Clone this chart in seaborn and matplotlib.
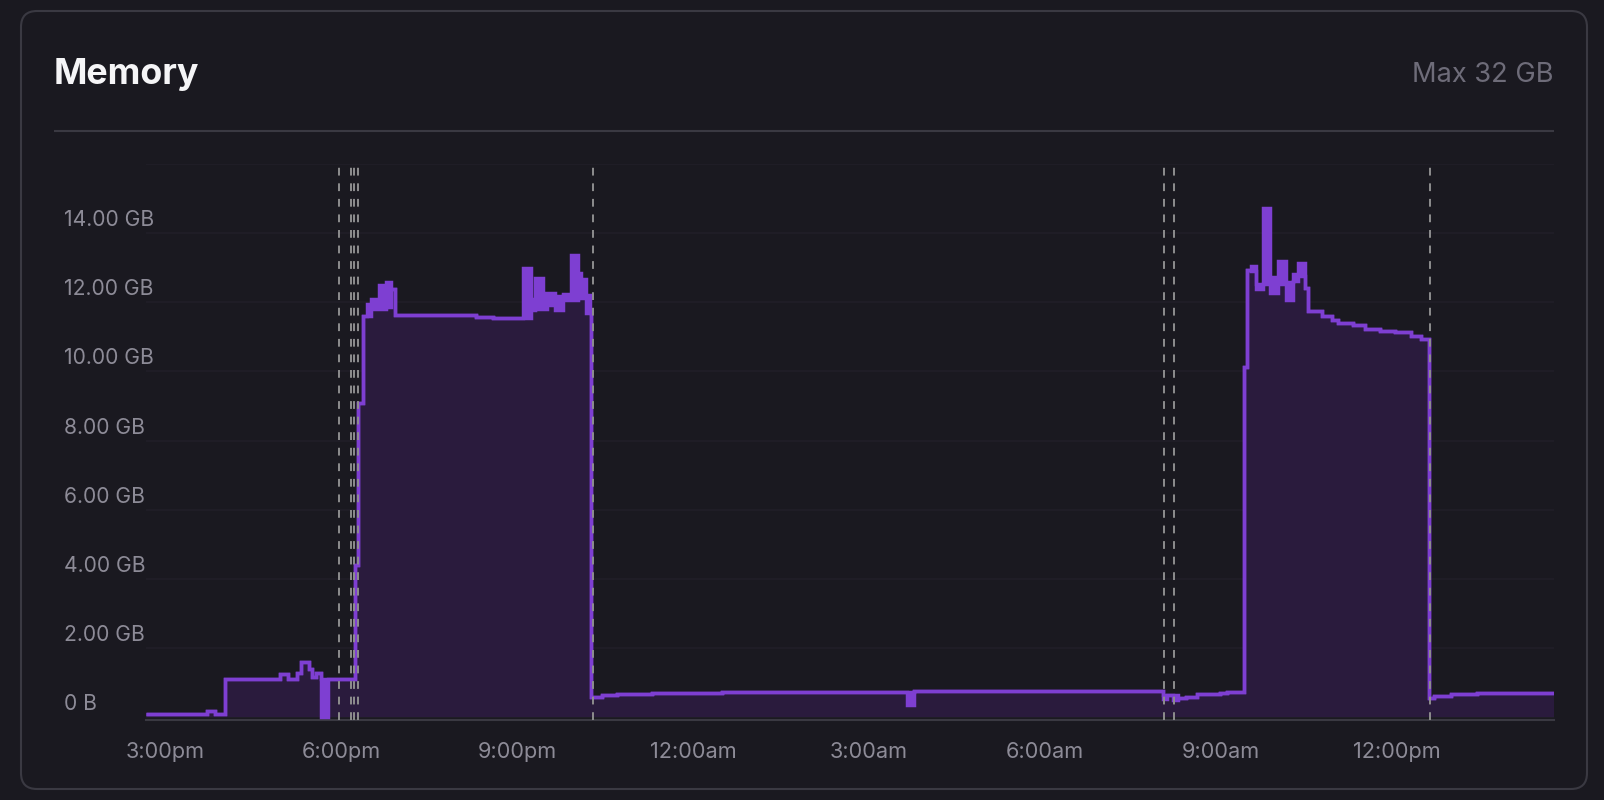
import numpy as np
import pandas as pd
import matplotlib
matplotlib.use('Agg')
import matplotlib.pyplot as plt
import seaborn as sns
from matplotlib.patches import FancyBboxPatch
from matplotlib import transforms

# Memory usage over ~24h, hours counted from 3:00pm
# each step holds from its time until the next one; lo/hi differ where the
# value flickers inside one pixel column (drawn as a solid block)
time_h = [-0.32, 0.72, 0.85, 1.02, 1.96, 2.10, 2.25, 2.32, 2.45, 2.50, 2.58, 2.66, 2.78,
          3.24, 3.30, 3.38, 3.44, 3.51, 3.65, 3.77, 3.855, 3.92, 4.50, 5.30, 5.60,
          6.11, 6.24, 6.31, 6.44, 6.51, 6.65, 6.78, 6.92, 7.04, 7.10, 7.18, 7.245,
          7.27, 7.45, 7.70, 8.30, 9.50, 11.00, 12.64, 12.77, 14.00, 15.50, 16.00,
          17.01, 17.07, 17.17, 17.27, 17.40, 17.59, 17.98, 18.10,
          18.39, 18.44, 18.50, 18.59, 18.71, 18.83, 18.97, 19.10, 19.23, 19.31, 19.43,
          19.48, 19.71, 19.88, 19.99, 20.25, 20.45, 20.70, 20.96, 21.24, 21.41,
          21.54, 21.62, 21.92, 22.35, 23.67]
mem_lo = [0.10, 0.18, 0.10, 1.12, 1.26, 1.12, 1.28, 1.60, 1.40, 1.15, 1.28, 0.00, 1.10,
          4.40, 9.10, 11.60, 11.60, 11.80, 11.80, 11.85, 12.39, 11.63, 11.62, 11.58, 11.55,
          11.55, 11.78, 11.80, 11.80, 11.92, 11.79, 12.08, 12.08, 12.58, 12.12, 11.68, 11.71,
          0.58, 0.64, 0.68, 0.71, 0.73, 0.74, 0.36, 0.75, 0.76, 0.77, 0.76,
          0.52, 0.65, 0.50, 0.55, 0.58, 0.67, 0.71, 0.72,
          10.12, 12.92, 12.90, 12.39, 12.53, 12.27, 12.53, 12.08, 12.63, 12.77, 12.41,
          11.74, 11.59, 11.50, 11.40, 11.35, 11.23, 11.18, 11.13, 11.03, 10.94,
          0.55, 0.62, 0.67, 0.71, 0.71]
mem_hi = [0.10, 0.18, 0.10, 1.12, 1.26, 1.12, 1.28, 1.60, 1.40, 1.15, 1.28, 1.12, 1.10,
          4.40, 9.10, 11.60, 11.95, 12.10, 12.50, 12.60, 12.39, 11.63, 11.62, 11.58, 11.55,
          13.00, 12.09, 12.71, 12.26, 12.26, 12.19, 12.24, 13.38, 12.85, 12.67, 12.21, 11.71,
          0.58, 0.64, 0.68, 0.71, 0.73, 0.74, 0.74, 0.75, 0.76, 0.77, 0.76,
          0.65, 0.65, 0.65, 0.55, 0.58, 0.67, 0.71, 0.72,
          10.12, 12.92, 13.06, 12.53, 14.74, 12.72, 13.20, 12.58, 12.82, 13.13, 12.41,
          11.74, 11.59, 11.50, 11.40, 11.35, 11.23, 11.18, 11.13, 11.03, 10.94,
          0.55, 0.62, 0.67, 0.71, 0.71]

# deploy markers (dashed vertical lines)
deploy_h = [2.97, 3.17, 3.22, 3.30, 7.29, 17.03, 17.20, 21.56]

x_tick_h = [0, 3, 6, 9, 12, 15, 18, 21]
x_tick_labels = ['3:00pm', '6:00pm', '9:00pm', '12:00am', '3:00am', '6:00am', '9:00am', '12:00pm']
y_tick_gb = [0, 2, 4, 6, 8, 10, 12, 14]
y_tick_labels = ['0 B', '2.00 GB', '4.00 GB', '6.00 GB', '8.00 GB', '10.00 GB', '12.00 GB', '14.00 GB']

df = pd.DataFrame({'hour': time_h, 'lo': mem_lo, 'hi': mem_hi})

# colours
bg_c = '#1a1920'
border_c = '#3a3942'
grid_c = '#211f28'
line_c = '#7e3fd2'
fill_c = '#2a1b3d'
tick_c = '#8d8b97'

sns.set_theme(style='dark')
plt.rcParams['font.family'] = ['Inter', 'DejaVu Sans']

W, H = 1604, 800
fig = plt.figure(figsize=(W / 100, H / 100), dpi=100, facecolor=bg_c)

# background layer in pixel units: card, header, divider
bg = fig.add_axes([0, 0, 1, 1])
bg.set_xlim(0, W)
bg.set_ylim(H, 0)
bg.axis('off')
bg.set_zorder(0)
card = FancyBboxPatch((21, 11), 1566, 778, boxstyle='round,pad=0,rounding_size=16',
                      facecolor=bg_c, edgecolor=border_c, lw=1.5)
bg.add_patch(card)
bg.plot([54, 1554], [130.5, 130.5], color=border_c, lw=1.5, solid_capstyle='butt')
bg.text(54, 84, 'Memory', fontsize=25.8, weight='bold', color='#f5f5f7', ha='left', va='baseline')
bg.text(1554, 82, 'Max 32 GB', fontsize=19.6, color='#6e6c79', ha='right', va='baseline')

# chart
ax = fig.add_axes([146 / W, (H - 720) / H, (1554 - 146) / W, (720 - 164) / H])
ax.set_zorder(1)
ax.patch.set_alpha(0)

ax.fill_between(df['hour'], 0, df['hi'], step='post', color=fill_c, lw=0, zorder=1)
ax.fill_between(df['hour'], df['lo'], df['hi'], step='post', color=line_c, lw=0, zorder=2)
for col in ['hi', 'lo']:
    sns.lineplot(data=df, x='hour', y=col, ax=ax, estimator=None, sort=False,
                 drawstyle='steps-post', color=line_c, lw=2.5,
                 solid_joinstyle='miter', solid_capstyle='butt', zorder=3)

for h in deploy_h:
    ax.axvline(h, color='#8e8e8e', lw=1.4, linestyle=(0, (4, 4)), zorder=4)

ax.set_xlim(-0.32, 23.67)
ax.set_ylim(-0.08, 16)
ax.set_xlabel('')
ax.set_ylabel('')

ax.set_yticks(range(0, 17, 2))
ax.set_yticklabels([])
ax.yaxis.grid(True, color=grid_c, lw=1.2)
ax.xaxis.grid(False)
ax.set_xticks(x_tick_h, x_tick_labels)
ax.tick_params(axis='x', length=0, pad=16, labelsize=15.6, labelcolor=tick_c)
ax.tick_params(axis='y', length=0)

for s in ['top', 'right', 'left']:
    ax.spines[s].set_visible(False)
ax.spines['bottom'].set_color(border_c)
ax.spines['bottom'].set_linewidth(1.5)

# y labels sit left-aligned near the card edge, a bit above their gridlines
ytrans = transforms.blended_transform_factory(bg.transData, ax.transData)
ytrans = transforms.offset_copy(ytrans, fig=fig, x=0, y=13, units='dots')
for v, lab in zip(y_tick_gb, y_tick_labels):
    ax.text(64.5, v, lab, transform=ytrans, ha='left', va='center',
            fontsize=15.2, color=tick_c)

plt.savefig('out.png', dpi=100, facecolor=bg_c)
plt.close()
